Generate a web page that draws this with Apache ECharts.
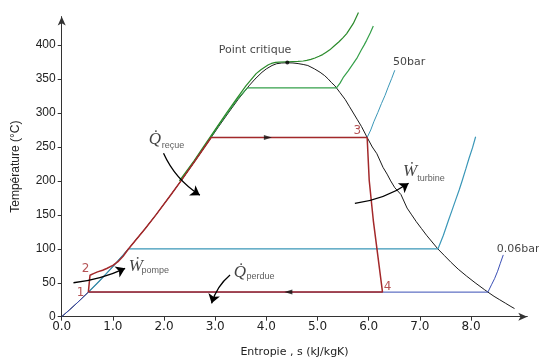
<!DOCTYPE html>
<html>
<head>
<meta charset="utf-8">
<script src="https://cdn.jsdelivr.net/npm/echarts@6/dist/echarts.min.js"></script>
<style>html,body{margin:0;padding:0;background:#fff}#c{width:539px;height:363px}</style>
</head>
<body>
<div id="c"></div>
<script>
// ---- data (entropy s in kJ/kgK, temperature T in °C) ----
const xTicks = [0, 1, 2, 3, 4, 5, 6, 7, 8];
const yTicks = [0, 50, 100, 150, 200, 250, 300, 350, 400];

const satLiquid = [[0,0],[0.151,10],[0.297,20],[0.521,36.2],[0.704,50],[0.955,70],[1.307,100],[1.634,130],[1.842,150],[2.138,180],[2.331,200],[2.610,230],[2.793,250],[2.921,264],[3.067,280],[3.255,300],[3.448,320],[3.660,340],[3.778,350],[3.915,360],[4.00,365],[4.111,370],[4.20,372.6],[4.30,373.7],[4.41,374]];
const satVapor = [[4.41,374],[4.52,373.7],[4.62,372.8],[4.72,371.5],[4.81,370],[4.94,365],[5.05,360],[5.14,355],[5.21,350],[5.27,345],[5.34,340],[5.44,330],[5.54,320],[5.62,310],[5.70,300],[5.78,290],[5.86,280],[5.97,264],[6.07,250],[6.16,240],[6.28,220],[6.36,210],[6.43,200],[6.51,190],[6.63,180],[6.75,160],[6.84,150],[6.93,140],[7.03,130],[7.13,120],[7.24,110],[7.35,100],[7.48,90],[7.61,80],[7.75,70],[7.91,60],[8.08,50],[8.26,40],[8.33,36.2],[8.45,30],[8.56,25],[8.67,20],[8.78,15],[8.85,12]];

const isobar006 = [[0,0],[0.151,10],[0.297,20],[0.521,36.2],[8.33,36.2],[8.40,47],[8.46,56],[8.52,67],[8.57,78],[8.63,91]];
const isobar1 = [[0.521,36.2],[0.704,50],[0.955,70],[1.307,100],[7.355,100],[7.46,120],[7.56,142],[7.63,157],[7.70,172],[7.77,187],[7.83,201],[7.90,218],[7.96,233],[8.03,249],[8.09,265]];
const isobar50 = [[2.331,200],[2.610,230],[2.793,250],[2.921,264],[5.97,264],[6.04,275],[6.10,287],[6.18,301],[6.25,314],[6.32,326],[6.38,338],[6.45,351],[6.51,363]];
const isobar140 = [[2.32,200],[2.60,230],[2.785,250],[3.05,280],[3.24,300],[3.43,320],[3.63,337],[5.37,337],[5.44,344],[5.50,352],[5.60,362],[5.70,373],[5.78,382],[5.85,392],[5.91,400],[5.96,407],[6.03,418],[6.09,428]];
const isobar220 = [[2.30,200],[2.59,230],[2.77,250],[3.04,280],[3.22,300],[3.41,320],[3.60,340],[3.80,358],[3.90,364],[3.98,368],[4.04,371],[4.10,373],[4.18,374.5],[4.25,375],[4.41,375.5],[4.62,376],[4.72,376.6],[4.79,377.5],[4.87,379],[4.95,381],[5.03,383.5],[5.10,386],[5.17,389.5],[5.24,393],[5.33,399],[5.42,405],[5.50,411],[5.57,417],[5.64,425],[5.70,432],[5.75,440],[5.80,448]];

const rankine = [[0.521,36.2],[0.553,61],[0.62,63.5],[0.70,66],[0.80,68.5],[0.88,71],[1.00,75.5],[1.10,81],[1.20,89],[1.307,100],[1.634,130],[1.842,150],[2.138,180],[2.331,200],[2.610,230],[2.793,250],[2.921,264],[5.97,264],[6.01,201],[6.09,142],[6.27,36.2],[0.521,36.2]];

const criticalPoint = [[4.41,374.5]];
const cycleArrowsRight = [[4.03,264]];
const cycleArrowsLeft = [[4.43,36.2]];

const flowArrows = [
  [[1.99,240.6],[2.70,179]],
  [[5.73,167],[6.78,196.5]],
  [[0.23,50],[1.24,71.3]],
  [[3.29,61.4],[2.93,19.7]]
];

const plainLabels = [['Point critique',3.78,392.8],['50bar',6.79,375],['0.06bar',8.92,99.7]];
const stateLabels = [['1',0.367,35.6],['2',0.465,70],['3',5.78,273.5],['4',6.37,44.5]];
const mathSymbols = [['Q\u0307',1.82,261.5],['\u1E86',6.81,213.8],['\u1E86',1.45,74],['Q\u0307',3.485,65]];
const mathSubs = [['reçue',2.175,252],['turbine',7.22,202.8],['pompe',1.83,68],['perdue',3.886,59.2]];

// ---- styles ----
const C = {red:'#a3282a', blue:'#3a4fb5', cyan:'#3a97b8', green1:'#2a8a2a', green2:'#35a04a', black:'#1a1a1a'};
const curv = [-0.15, -0.12, -0.08, -0.15];

function lineSeries(data, color, width, z, extra) {
  return Object.assign({type:'line', data:data, symbol:'none', z:z, animation:false,
    lineStyle:{color:color, width:width}, emphasis:{disabled:true}}, extra||{});
}
function textSeries(items, labelStyle) {
  return {type:'scatter', symbolSize:0, animation:false, z:20, silent:true,
    data: items.map(d => ({name:d[0], value:[d[1], d[2]]})),
    label: Object.assign({show:true, formatter:p=>p.name, position:[0,0], align:'center', verticalAlign:'middle'}, labelStyle)};
}

const chart = echarts.init(document.getElementById('c'), null, {renderer:'canvas'});
chart.setOption({
  backgroundColor:'#fff',
  animation:false,
  grid:{left:61.7, right:11.7, top:16.6, bottom:46.3, containLabel:false},
  xAxis:{type:'value', min:0, max:9.1, interval:1,
    name:'Entropie , s (kJ/kgK)', nameLocation:'middle', nameGap:30,
    nameTextStyle:{fontFamily:'DejaVu Sans', fontSize:11, color:'#222'},
    axisLine:{show:true, lineStyle:{color:'#333', width:1}, symbol:['none','arrow'], symbolSize:[6,9]},
    axisTick:{show:true, length:4, inside:false, lineStyle:{color:'#333'}, customValues:xTicks},
    axisLabel:{customValues:xTicks, formatter:v=>v.toFixed(1), fontFamily:'DejaVu Sans', fontSize:12, color:'#222', margin:4},
    splitLine:{show:false}},
  yAxis:{type:'value', min:0, max:442, interval:50,
    name:'Température (°C)', nameLocation:'middle', nameGap:40,
    nameTextStyle:{fontFamily:'Liberation Sans', fontSize:12, color:'#222'},
    axisLine:{show:true, lineStyle:{color:'#333', width:1}, symbol:['none','arrow'], symbolSize:[6,9]},
    axisTick:{show:true, length:4, inside:false, lineStyle:{color:'#333'}, customValues:yTicks},
    axisLabel:{customValues:yTicks, fontFamily:'Liberation Sans', fontSize:12, color:'#222', margin:6},
    splitLine:{show:false}},
  series:[
    lineSeries(satLiquid.concat(satVapor.slice(1)), C.black, 1, 2),
    lineSeries(isobar006, C.blue, 1, 3),
    lineSeries(isobar1, C.cyan, 1.2, 3),
    lineSeries(isobar50, C.cyan, 1, 3),
    lineSeries(isobar140, C.green2, 1.2, 3),
    lineSeries(isobar220, C.green1, 1.2, 3, {clip:false}),
    lineSeries(rankine, C.red, 1.5, 5),
    {type:'scatter', data:criticalPoint, symbol:'circle', symbolSize:4, itemStyle:{color:'#000'}, z:6, animation:false},
    {type:'scatter', data:cycleArrowsRight, symbol:'triangle', symbolRotate:-90, symbolSize:[5,8], itemStyle:{color:'#111'}, z:6, animation:false},
    {type:'scatter', data:cycleArrowsLeft, symbol:'triangle', symbolRotate:90, symbolSize:[5,8], itemStyle:{color:'#111'}, z:6, animation:false},
    {type:'lines', coordinateSystem:'cartesian2d', z:7, animation:false, symbol:['none','arrow'], symbolSize:9,
      data: flowArrows.map((c,i) => ({coords:c, lineStyle:{curveness:curv[i]}})),
      lineStyle:{color:'#000', width:1.3, opacity:1}, itemStyle:{color:'#000'}},
    textSeries(plainLabels, {fontFamily:'DejaVu Sans', fontSize:11, color:'#111'}),
    textSeries(stateLabels, {fontFamily:'DejaVu Sans', fontSize:12, color:C.red}),
    textSeries(mathSymbols, {fontFamily:'Liberation Serif', fontStyle:'italic', fontSize:17, color:'#111'}),
    textSeries(mathSubs, {fontFamily:'Liberation Sans', fontSize:9, color:'#333'})
  ]
});
</script>
</body>
</html>
